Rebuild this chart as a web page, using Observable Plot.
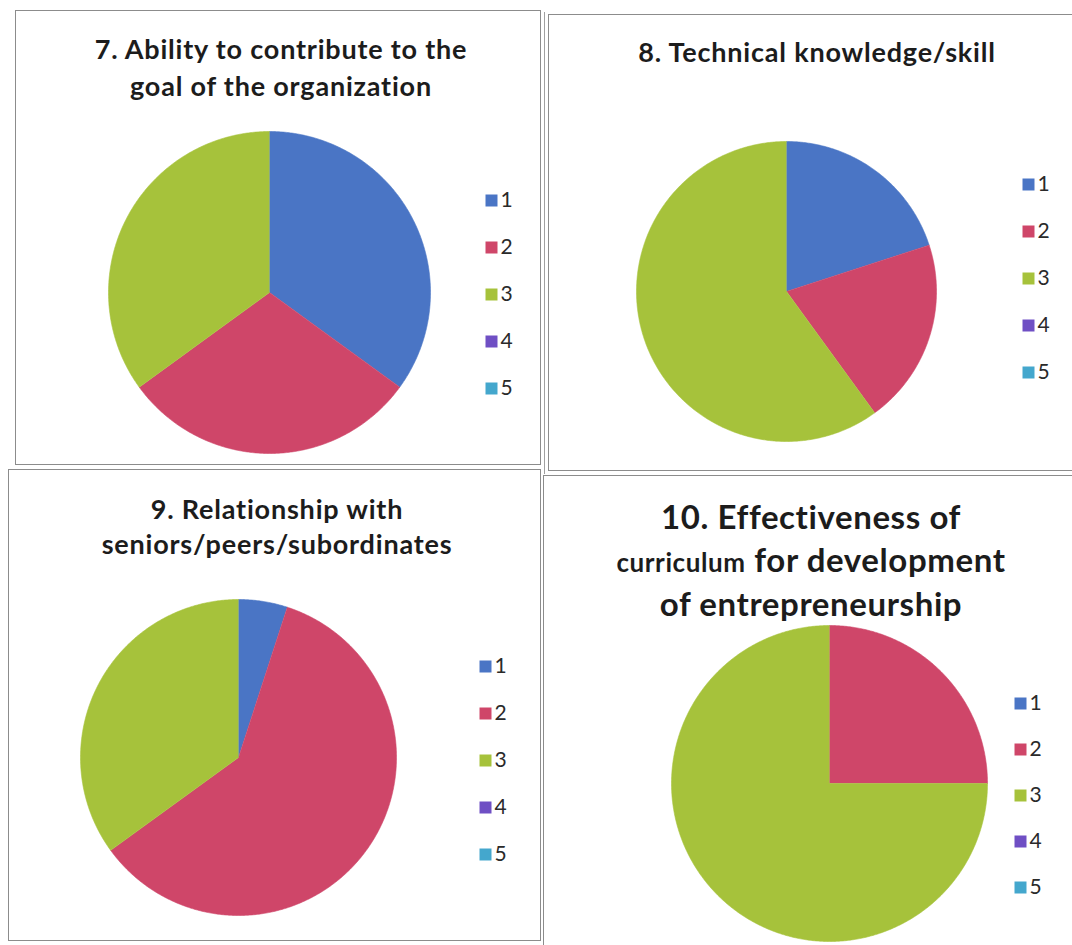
<!DOCTYPE html>
<html>
<head>
<meta charset="utf-8">
<script src="https://cdn.jsdelivr.net/npm/d3@7"></script>
<script src="https://cdn.jsdelivr.net/npm/@observablehq/plot@0.6"></script>
<style>
  body { margin: 0; background: #fff; }
  #root { position: relative; width: 1072px; height: 945px; overflow: hidden; font-family: Lato, "Open Sans", sans-serif; background: #fff; }
  .panel { position: absolute; border: 1px solid #8c8c8c; box-sizing: border-box; }
  .title { position: absolute; font-weight: bold; color: #1c1c1c; white-space: nowrap; text-align: center; width: 600px; }
  .title div { position: absolute; left: 0; right: 0; }
  .pie, .legend { position: absolute; }
  .pie svg, .legend svg { display: block; overflow: visible; }
</style>
</head>
<body>
<div id="root"></div>
<script>
// ---- data ----
const categories = ["1", "2", "3", "4", "5"];
const colors = ["#4a75c5", "#cf4669", "#a6c23b", "#6f4fc4", "#44a7cd"];

const q7Values  = [7, 6, 7, 0, 0];
const q8Values  = [4, 4, 12, 0, 0];
const q9Values  = [1, 12, 7, 0, 0];
const q10Values = [0, 5, 15, 0, 0];

const q7Title  = [["7. Ability to contribute to the"], ["goal of the organization"]];
const q8Title  = [["8. Technical knowledge/skill"]];
const q9Title  = [["9. Relationship with"], ["seniors/peers/subordinates"]];
const q10Title = [["10. Effectiveness of"], ["curriculum", " for development"], ["of entrepreneurship"]];

// ---- layout (positions / sizes only) ----
const panels = [
  {values: q7Values,  title: q7Title,  box: [15, 10, 526, 455],  cx: 269, cy: 292, r: 161,
   titleCx: 281, baselines: [60, 97], fs: [27], ls: 0.8, legend: {x: 485, y0: 199, step: 47}},
  {values: q8Values,  title: q8Title,  box: [548, 14, 540, 457], cx: 786, cy: 291, r: 150,
   titleCx: 817, baselines: [63], fs: [27], ls: 0.8, legend: {x: 1022, y0: 183, step: 47}},
  {values: q9Values,  title: q9Title,  box: [8, 469, 533, 472],  cx: 238, cy: 757, r: 158,
   titleCx: 277, baselines: [520, 555], fs: [27], ls: 0.8, legend: {x: 479, y0: 665, step: 47}},
  {values: q10Values, title: q10Title, box: [543, 475, 540, 480], cx: 829, cy: 783, r: 158,
   titleCx: 811, baselines: [530, 573, 617], fs: [33, 26], ls: 0.6, legend: {x: 1014, y0: 702, step: 46.3}}
];

const root = document.getElementById("root");

function pieRows(values) {
  const arcs = d3.pie().sort(null).value(d => d)(values);
  const rows = [];
  arcs.forEach((a, i) => {
    const span = a.endAngle - a.startAngle;
    if (span <= 0) return;
    const cat = categories[i];
    rows.push({cat, x: 0, y: 0});
    const n = Math.max(2, Math.ceil(span / (Math.PI / 360)));
    for (let k = 0; k <= n; k++) {
      const t = a.startAngle + span * k / n;
      rows.push({cat, x: Math.sin(t), y: Math.cos(t)});
    }
  });
  return rows;
}

// extra double rule between the two top panels
const rule = document.createElement("div");
Object.assign(rule.style, {position: "absolute", left: "544px", top: "12px", width: "0px", height: "462px", borderLeft: "1px solid #a0a0a0"});
root.appendChild(rule);

for (const p of panels) {
  const box = document.createElement("div");
  box.className = "panel";
  Object.assign(box.style, {left: p.box[0] + "px", top: p.box[1] + "px", width: p.box[2] + "px", height: p.box[3] + "px"});
  root.appendChild(box);

  // title
  const t = document.createElement("div");
  t.className = "title";
  t.style.left = (p.titleCx - 300) + "px";
  t.style.top = "0px";
  t.style.letterSpacing = p.ls + "px";
  p.title.forEach((segs, li) => {
    const line = document.createElement("div");
    const big = p.fs[0];
    line.style.top = (p.baselines[li] - big * 0.987) + "px";
    line.style.lineHeight = (big * 1.2) + "px";
    line.style.height = (big * 1.2) + "px";
    segs.forEach((s, si) => {
      const span = document.createElement("span");
      span.textContent = s;
      const small = p.fs.length > 1 && segs.length > 1 && si === 0;
      span.style.fontSize = (small ? p.fs[1] : big) + "px";
      line.appendChild(span);
    });
    t.appendChild(line);
  });
  root.appendChild(t);

  // pie
  const size = 2 * p.r;
  const pie = Plot.plot({
    width: size, height: size, margin: 0,
    x: {domain: [-1, 1], axis: null},
    y: {domain: [-1, 1], axis: null},
    color: {domain: categories, range: colors},
    marks: [
      Plot.line(pieRows(p.values), {x: "x", y: "y", z: "cat", fill: "cat", stroke: "cat", strokeWidth: 0.6, curve: "linear"})
    ]
  });
  const pd = document.createElement("div");
  pd.className = "pie";
  pd.style.left = (p.cx - p.r) + "px";
  pd.style.top = (p.cy - p.r) + "px";
  pd.appendChild(pie);
  root.appendChild(pd);

  // legend
  const lh = p.legend.step * categories.length;
  const leg = Plot.plot({
    width: 50, height: lh, margin: 0,
    y: {type: "point", domain: categories, axis: null, padding: 0.5},
    color: {domain: categories, range: colors},
    marks: [
      Plot.dot(categories, {y: d => d, frameAnchor: "left", dx: 6, symbol: "square", r: 12 / Math.sqrt(Math.PI), fill: d => d}),
      Plot.text(categories, {y: d => d, text: d => d, frameAnchor: "left", dx: 15, textAnchor: "start", fontSize: 21, fill: "#2a2a2a", fontFamily: "Lato, sans-serif"})
    ]
  });
  const ld = document.createElement("div");
  ld.className = "legend";
  ld.style.left = p.legend.x + "px";
  ld.style.top = (p.legend.y0 - p.legend.step / 2) + "px";
  ld.appendChild(leg);
  root.appendChild(ld);
}
</script>
</body>
</html>
